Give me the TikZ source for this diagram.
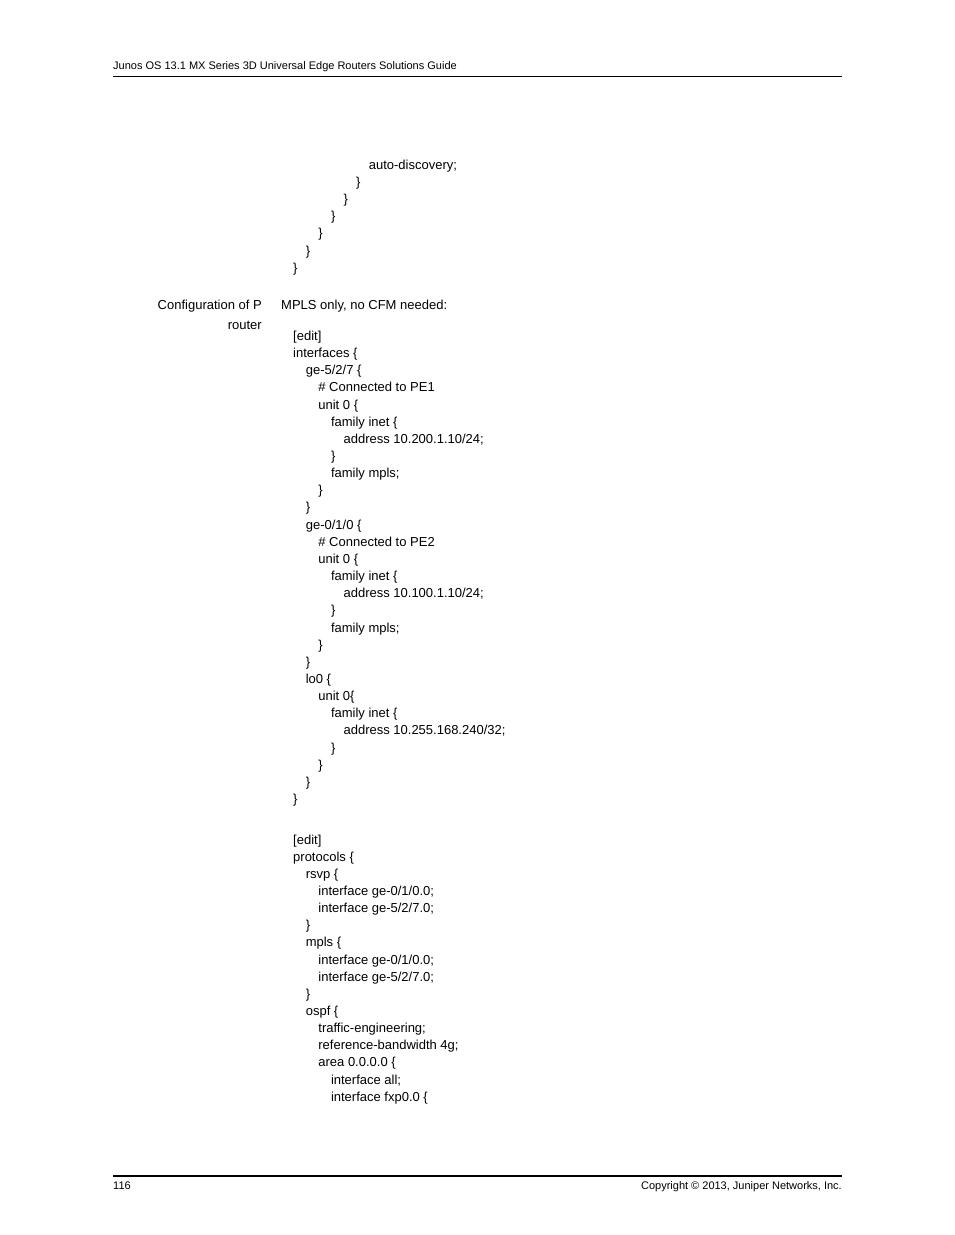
\documentclass[tikz,border=0pt]{standalone}
\usepackage{fontspec}
\setmainfont{Liberation Sans}
\newcommand{\cl}[4]{\node[code] (#1) at ({293+12.6*#3},{#2+5}) {#4};}
\tikzset{
  code/.style={anchor=base west, inner sep=0pt, font=\fontsize{13}{15}\selectfont},
  small/.style={inner sep=0pt, font=\fontsize{11}{13}\selectfont},
  rulefoot/.style={line width=1.2pt}
}
\begin{document}
\begin{tikzpicture}[x=1pt,y=-1pt]
\useasboundingbox (0,0) rectangle (954,1235);
% header and footer
\node[small, anchor=base west] (head) at (113,69) {Junos OS 13.1 MX Series 3D Universal Edge Routers Solutions Guide};
\draw[line width=0.6pt] (113,76) -- (842,76);
\draw[rulefoot] (113,1176) -- (842,1176);
\node[small, anchor=base west] (page) at (113,1189) {116};
\node[small, anchor=base east] (copy) at (842,1189) {Copyright © 2013, Juniper Networks, Inc.};
% end of previous block
\cl{p1}{164}{6}{auto-discovery;}
\cl{p2}{181}{5}{\}}
\cl{p3}{198}{4}{\}}
\cl{p4}{215}{3}{\}}
\cl{p5}{232}{2}{\}}
\cl{p6}{250}{1}{\}}
\cl{p7}{267}{0}{\}}
% side heading
\node[code, anchor=base east] (side1) at (262,309) {Configuration of P};
\node[code, anchor=base east] (side2) at (262,329) {router};
\node[code] (intro) at (281,309) {MPLS only, no CFM needed:};
% interfaces
\cl{a1}{335}{0}{[edit]}
\cl{a2}{352}{0}{interfaces \{}
\cl{a3}{369}{1}{ge-5/2/7 \{}
\cl{a4}{386}{2}{\# Connected to PE1}
\cl{a5}{404}{2}{unit 0 \{}
\cl{a6}{421}{3}{family inet \{}
\cl{a7}{438}{4}{address 10.200.1.10/24;}
\cl{a8}{455}{3}{\}}
\cl{a9}{472}{3}{family mpls;}
\cl{a10}{489}{2}{\}}
\cl{a11}{506}{1}{\}}
\cl{a12}{524}{1}{ge-0/1/0 \{}
\cl{a13}{541}{2}{\# Connected to PE2}
\cl{a14}{558}{2}{unit 0 \{}
\cl{a15}{575}{3}{family inet \{}
\cl{a16}{592}{4}{address 10.100.1.10/24;}
\cl{a17}{609}{3}{\}}
\cl{a18}{627}{3}{family mpls;}
\cl{a19}{644}{2}{\}}
\cl{a20}{661}{1}{\}}
\cl{a21}{678}{1}{lo0 \{}
\cl{a22}{695}{2}{unit 0\{}
\cl{a23}{712}{3}{family inet \{}
\cl{a24}{729}{4}{address 10.255.168.240/32;}
\cl{a25}{747}{3}{\}}
\cl{a26}{764}{2}{\}}
\cl{a27}{781}{1}{\}}
\cl{a28}{798}{0}{\}}
% protocols
\cl{b1}{839}{0}{[edit]}
\cl{b2}{856}{0}{protocols \{}
\cl{b3}{873}{1}{rsvp \{}
\cl{b4}{890}{2}{interface ge-0/1/0.0;}
\cl{b5}{907}{2}{interface ge-5/2/7.0;}
\cl{b6}{924}{1}{\}}
\cl{b7}{941}{1}{mpls \{}
\cl{b8}{959}{2}{interface ge-0/1/0.0;}
\cl{b9}{976}{2}{interface ge-5/2/7.0;}
\cl{b10}{993}{1}{\}}
\cl{b11}{1010}{1}{ospf \{}
\cl{b12}{1027}{2}{traffic-engineering;}
\cl{b13}{1044}{2}{reference-bandwidth 4g;}
\cl{b14}{1061}{2}{area 0.0.0.0 \{}
\cl{b15}{1079}{3}{interface all;}
\cl{b16}{1096}{3}{interface fxp0.0 \{}
\end{tikzpicture}
\end{document}
